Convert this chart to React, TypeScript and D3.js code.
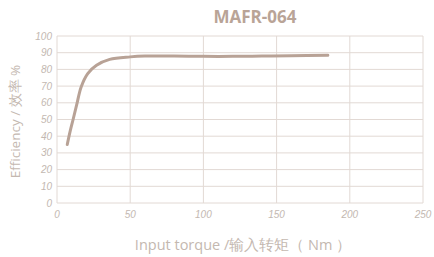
import React from "react";
import * as d3 from "d3";

const torque = [7, 9, 11, 13.5, 16.5, 21, 27, 36, 50, 60, 80, 100, 120, 140, 160, 185];
const efficiency = [35, 43, 50, 59, 69.5, 77.5, 82.5, 86, 87.5, 88, 88, 87.8, 87.8, 88, 88.2, 88.4];
const xTicks = [0, 50, 100, 150, 200, 250];
const yTicks = [0, 10, 20, 30, 40, 50, 60, 70, 80, 90, 100];

export default function App() {
  const width = 434;
  const height = 257;
  const margin = { top: 36, right: 11, bottom: 54, left: 57 };

  const x = d3.scaleLinear().domain([0, 250]).range([margin.left, width - margin.right]);
  const y = d3.scaleLinear().domain([0, 100]).range([height - margin.bottom, margin.top]);

  const points = torque.map((t, i) => [t, efficiency[i]] as [number, number]);
  const line = d3
    .line<[number, number]>()
    .x((d) => x(d[0]))
    .y((d) => y(d[1]))
    .curve(d3.curveCatmullRom.alpha(0.5));

  const tickColor = "#c3b8b1";
  const gridColor = "#e2d9d4";

  return (
    <svg
      width={width}
      height={height}
      style={{ position: "absolute", left: 0, top: 0, background: "#fff" }}
      fontFamily="'Open Sans', sans-serif"
    >
      <text x={255} y={23} textAnchor="middle" fontSize={17} fontWeight="bold" fill="#b9a497">
        MAFR-064
      </text>

      {yTicks.map((t) => (
        <g key={"y" + t}>
          <line x1={x(0)} x2={x(250)} y1={y(t)} y2={y(t)} stroke={gridColor} strokeWidth={1} />
          <text
            x={x(0) - 5}
            y={y(t) + 3.5}
            textAnchor="end"
            fontSize={10}
            fontStyle="italic"
            fontFamily="'Liberation Sans', sans-serif"
            fill={tickColor}
          >
            {t}
          </text>
        </g>
      ))}

      {xTicks.map((t) => (
        <g key={"x" + t}>
          <line x1={x(t)} x2={x(t)} y1={y(0)} y2={y(100)} stroke={gridColor} strokeWidth={1} />
          <text
            x={x(t)}
            y={y(0) + 15}
            textAnchor="middle"
            fontSize={10}
            fontStyle="italic"
            fontFamily="'Liberation Sans', sans-serif"
            fill={tickColor}
          >
            {t}
          </text>
        </g>
      ))}

      <path d={line(points) ?? ""} fill="none" stroke="#b8a296" strokeWidth={3} strokeLinecap="round" />

      <text
        transform={`translate(20, ${(y(0) + y(100)) / 2 + 2}) rotate(-90)`}
        textAnchor="middle"
        fontSize={13.5}
        fill="#c4b8b0"
      >
        Efficiency / 效率 %
      </text>
      <text x={243} y={250} textAnchor="middle" fontSize={14.5} fill="#c4b8b0">
        Input torque /输入转矩（ Nm ）
      </text>
    </svg>
  );
}
